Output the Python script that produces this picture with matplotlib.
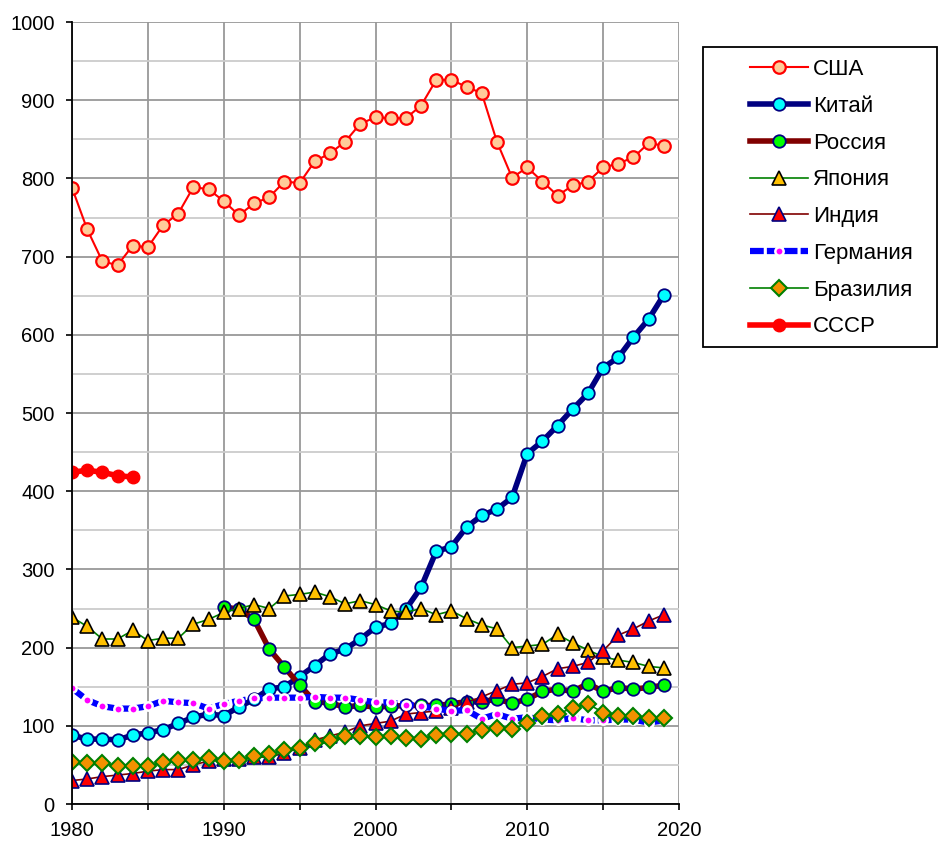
import matplotlib.pyplot as plt
from matplotlib.patches import Rectangle
from matplotlib.ticker import MultipleLocator

plt.rcParams['font.family'] = ['Liberation Sans', 'DejaVu Sans']

# годы
years = list(range(1980, 2020))
years_ru = list(range(1990, 2020))
years_ussr = list(range(1980, 1985))

usa = [788, 735, 694, 689, 714, 712, 740, 755, 789, 786,
       771, 753, 768, 776, 796, 794, 822, 832, 847, 870,
       878, 877, 877, 893, 926, 926, 917, 909, 847, 801,
       814, 796, 778, 791, 796, 814, 819, 827, 845, 842]

china = [88, 83, 83, 82, 88, 91, 95, 103, 111, 115,
         113, 124, 134, 147, 150, 163, 177, 192, 198, 211,
         226, 231, 249, 277, 323, 329, 354, 369, 377, 392,
         448, 464, 484, 505, 525, 558, 571, 597, 620, 651]

russia = [252, 249, 236, 198, 175, 152, 131, 129, 124, 126,
          124, 125, 126, 126, 126, 128, 131, 131, 134, 129,
          134, 144, 147, 144, 154, 144, 149, 147, 149, 152]

japan = [239, 227, 211, 211, 222, 209, 212, 212, 230, 236,
         245, 250, 255, 250, 266, 268, 271, 265, 256, 260,
         255, 247, 245, 250, 242, 247, 237, 229, 224, 200,
         202, 204, 217, 206, 197, 188, 184, 181, 176, 174]

india = [30, 32, 35, 37, 39, 42, 44, 44, 50, 55,
         57, 57, 60, 60, 65, 72, 82, 87, 92, 100,
         103, 106, 115, 117, 119, 123, 130, 137, 145, 153,
         155, 163, 173, 176, 181, 196, 216, 224, 234, 242]

germany = [148, 133, 125, 122, 122, 125, 132, 130, 129, 122,
           128, 132, 135, 136, 136, 136, 137, 136, 136, 133,
           130, 130, 127, 125, 122, 119, 120, 109, 115, 109,
           111, 108, 107, 110, 107, 107, 108, 108, 104, 107]

brazil = [54, 52, 52, 49, 48, 48, 54, 56, 56, 59,
          55, 56, 61, 64, 69, 72, 78, 82, 87, 87,
          86, 87, 85, 83, 88, 90, 90, 95, 97, 96,
          103, 113, 115, 123, 128, 117, 113, 113, 110, 110]

ussr = [424, 427, 424, 420, 418]

W, H = 944, 841
fig = plt.figure(figsize=(W / 100, H / 100), dpi=100)
ax = fig.add_axes([72 / W, 1 - 804 / H, 607 / W, 782 / H])

ax.plot(years, usa, color='red', lw=1.5, marker='o', ms=9,
        mfc='#FFCC99', mec='red', mew=1.6, label='США')
ax.plot(years, china, color='#000080', lw=4, marker='o', ms=9,
        mfc='#00FFFF', mec='#000080', mew=1.3, label='Китай')
ax.plot(years_ru, russia, color='#800000', lw=4, marker='o', ms=9,
        mfc='#00FF00', mec='#000080', mew=1.3, label='Россия')
ax.plot(years, japan, color='#008000', lw=1.2, marker='^', ms=10,
        mfc='#FFC000', mec='black', mew=1.2, label='Япония')
ax.plot(years, india, color='#800000', lw=1.2, marker='^', ms=10,
        mfc='red', mec='#000080', mew=1.2, label='Индия')
ax.plot(years, germany, color='#0000FF', lw=4.5, dashes=(2.2, 0.5),
        marker='o', ms=6, mfc='#FF00FF', mec='white', mew=1.8,
        label='Германия')
ax.plot(years, brazil, color='#008000', lw=1.2, marker='D', ms=8,
        mfc='#F29100', mec='#008000', mew=1.5, label='Бразилия')
ax.plot(years_ussr, ussr, color='red', lw=4, marker='o', ms=9,
        mfc='red', mec='red', label='СССР')

ax.set_xlim(1980, 2020)
ax.set_ylim(0, 1000)
ax.xaxis.set_major_locator(MultipleLocator(10))
ax.xaxis.set_minor_locator(MultipleLocator(5))
ax.yaxis.set_major_locator(MultipleLocator(100))
ax.yaxis.set_minor_locator(MultipleLocator(50))

ax.grid(True, which='both', axis='x', color='#999999', lw=1.3)
ax.grid(True, which='major', axis='y', color='#999999', lw=1.3)
ax.grid(True, which='minor', axis='y', color='#CCCCCC', lw=1.3)
ax.set_axisbelow(True)

ax.tick_params(axis='both', which='both', direction='out', length=4.5,
               width=1.2, color='black', labelsize=14.5)
ax.tick_params(axis='y', which='major', pad=8)
ax.tick_params(axis='x', which='major', pad=8)
ax.tick_params(axis='y', which='minor', length=0)

for side in ['top', 'right']:
    ax.spines[side].set_visible(False)
for side in ['left', 'bottom']:
    ax.spines[side].set_color('black')
    ax.spines[side].set_linewidth(1.3)

# рамка легенды
fig.patches.append(Rectangle((703 / W, 1 - 347 / H), 234 / W, 300 / H,
                             transform=fig.transFigure, fill=False,
                             edgecolor='black', lw=1.3))

ax.legend(loc='upper left', bbox_to_anchor=(750 / W, 1 - 59 / H),
          bbox_transform=fig.transFigure, numpoints=1, fontsize=16,
          handlelength=2.6, handletextpad=0.25, labelspacing=0.71,
          borderpad=0, borderaxespad=0, frameon=False)

fig.savefig('out.png', dpi=100)
